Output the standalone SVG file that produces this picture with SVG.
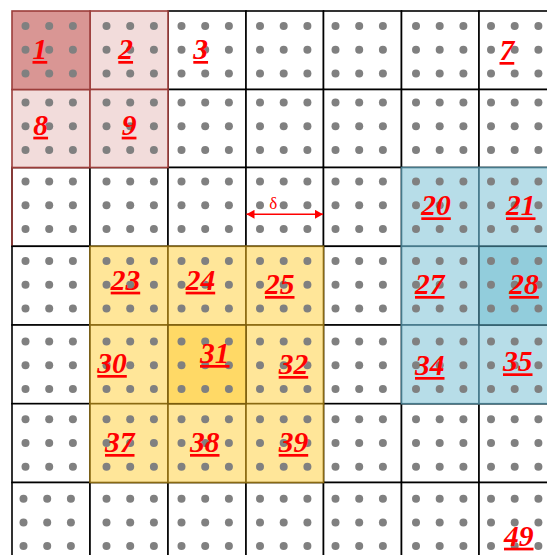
<svg xmlns="http://www.w3.org/2000/svg" xmlns:xlink="http://www.w3.org/1999/xlink" width="547" height="555" viewBox="0 0 547 555">
<style>
.c{fill:#ffffff;stroke:#000000;stroke-width:1.6}
.pk{fill:#f2dcdb;stroke:#9b3d3a;stroke-width:1.6}
.pk1{fill:#d99694;stroke:#9b3d3a;stroke-width:1.6}
.ye{fill:#ffe699;stroke:#8a6a12;stroke-width:1.6}
.ye1{fill:#ffd966;stroke:#7a5c0c;stroke-width:1.6}
.bl{fill:#b7dde8;stroke:#46798a;stroke-width:1.6}
.bl1{fill:#92cddc;stroke:#2f5a68;stroke-width:1.6}
.lb{font-family:"Liberation Serif","Times New Roman",serif;font-weight:bold;font-style:italic;font-size:29.5px;fill:#ff0000}
.ul{fill:#ff0000}
.dl{font-family:"Liberation Serif","Times New Roman",serif;font-size:17px;fill:#ff0000}
</style>
<defs>
<g id="dots" fill="#808080">
<circle cx="0" cy="0" r="4"/><circle cx="23.7" cy="0" r="4"/><circle cx="47.4" cy="0" r="4"/>
<circle cx="0" cy="23.7" r="4"/><circle cx="23.7" cy="23.7" r="4"/><circle cx="47.4" cy="23.7" r="4"/>
<circle cx="0" cy="47.4" r="4"/><circle cx="23.7" cy="47.4" r="4"/><circle cx="47.4" cy="47.4" r="4"/>
</g>
<marker id="ah" viewBox="0 0 10 10" refX="10" refY="5" markerUnits="userSpaceOnUse" markerWidth="8" markerHeight="9" orient="auto-start-reverse" preserveAspectRatio="none">
<path d="M0,0 L10,5 L0,10 z" fill="#ff0000"/>
</marker>
</defs>
<rect x="0" y="0" width="547" height="555" fill="#ffffff"/>

<!-- plain cells -->
<g id="cell-3"><rect class="c" x="168" y="11" width="78" height="78.5"/><use href="#dots" x="181.5" y="26"/><text class="lb" x="193.3" y="59">3</text><rect class="ul" x="193.3" y="61" width="14.75" height="2.7"/></g>
<g id="cell-4"><rect class="c" x="246" y="11" width="77.5" height="78.5"/><use href="#dots" x="260" y="26"/></g>
<g id="cell-5"><rect class="c" x="323.5" y="11" width="78" height="78.5"/><use href="#dots" x="335.5" y="26"/></g>
<g id="cell-6"><rect class="c" x="401.5" y="11" width="77.5" height="78.5"/><use href="#dots" x="416" y="26"/></g>
<g id="cell-7"><rect class="c" x="479" y="11" width="78" height="78.5"/><use href="#dots" x="491" y="26"/><text class="lb" x="499.5" y="60">7</text><rect class="ul" x="499.5" y="62" width="14.75" height="2.7"/></g>

<g id="cell-10"><rect class="c" x="168" y="89.5" width="78" height="78"/><use href="#dots" x="181.5" y="102.5"/></g>
<g id="cell-11"><rect class="c" x="246" y="89.5" width="77.5" height="78"/><use href="#dots" x="260" y="102.5"/></g>
<g id="cell-12"><rect class="c" x="323.5" y="89.5" width="78" height="78"/><use href="#dots" x="335.5" y="102.5"/></g>
<g id="cell-13"><rect class="c" x="401.5" y="89.5" width="77.5" height="78"/><use href="#dots" x="416" y="102.5"/></g>
<g id="cell-14"><rect class="c" x="479" y="89.5" width="78" height="78"/><use href="#dots" x="491" y="102.5"/></g>

<g id="cell-15"><rect class="c" x="12" y="167.5" width="78" height="78.8"/><path d="M12,246.3 V167.5 H90" fill="none" stroke="#9b3d3a" stroke-width="1.6"/><use href="#dots" x="25.5" y="181.5"/></g>
<g id="cell-16"><rect class="c" x="90" y="167.5" width="78" height="78.8"/><use href="#dots" x="106.5" y="181.5"/></g>
<g id="cell-17"><rect class="c" x="168" y="167.5" width="78" height="78.8"/><use href="#dots" x="181.5" y="181.5"/></g>
<g id="cell-18"><rect class="c" x="246" y="167.5" width="77.5" height="78.8"/><use href="#dots" x="260" y="181.5"/></g>
<g id="cell-19"><rect class="c" x="323.5" y="167.5" width="78" height="78.8"/><use href="#dots" x="335.5" y="181.5"/></g>

<g id="cell-22"><rect class="c" x="12" y="246.3" width="78" height="78.7"/><use href="#dots" x="25.5" y="261"/></g>
<g id="cell-26"><rect class="c" x="323.5" y="246.3" width="78" height="78.7"/><use href="#dots" x="335.5" y="261"/></g>

<g id="cell-29"><rect class="c" x="12" y="325" width="78" height="78.7"/><use href="#dots" x="25.5" y="341.5"/></g>
<g id="cell-33"><rect class="c" x="323.5" y="325" width="78" height="78.7"/><use href="#dots" x="335.5" y="341.5"/></g>

<g id="cell-36"><rect class="c" x="12" y="403.7" width="78" height="78.8"/><use href="#dots" x="25.5" y="419.3"/></g>
<g id="cell-40"><rect class="c" x="323.5" y="403.7" width="78" height="78.8"/><use href="#dots" x="335.5" y="419.3"/></g>
<g id="cell-41"><rect class="c" x="401.5" y="403.7" width="77.5" height="78.8"/><use href="#dots" x="416" y="419.3"/></g>
<g id="cell-42"><rect class="c" x="479" y="403.7" width="78" height="78.8"/><use href="#dots" x="491" y="419.3"/></g>

<g id="cell-43"><rect class="c" x="12" y="482.5" width="78" height="78.5"/><use href="#dots" x="23.5" y="498.7"/></g>
<g id="cell-44"><rect class="c" x="90" y="482.5" width="78" height="78.5"/><use href="#dots" x="106.5" y="498.7"/></g>
<g id="cell-45"><rect class="c" x="168" y="482.5" width="78" height="78.5"/><use href="#dots" x="181.5" y="498.7"/></g>
<g id="cell-46"><rect class="c" x="246" y="482.5" width="77.5" height="78.5"/><use href="#dots" x="260" y="498.7"/></g>
<g id="cell-47"><rect class="c" x="323.5" y="482.5" width="78" height="78.5"/><use href="#dots" x="335.5" y="498.7"/></g>
<g id="cell-48"><rect class="c" x="401.5" y="482.5" width="77.5" height="78.5"/><use href="#dots" x="416" y="498.7"/></g>
<g id="cell-49"><rect class="c" x="479" y="482.5" width="78" height="78.5"/><use href="#dots" x="491" y="498.7"/><text class="lb" x="504" y="545.7">49</text><rect class="ul" x="504" y="547.7" width="29.5" height="2.7"/></g>

<!-- pink cells -->
<g id="cell-2"><rect class="pk" x="90" y="11" width="78" height="78.5"/><use href="#dots" x="106.5" y="26"/><text class="lb" x="118.3" y="59">2</text><rect class="ul" x="118.3" y="61" width="14.75" height="2.7"/></g>
<g id="cell-8"><rect class="pk" x="12" y="89.5" width="78" height="78"/><use href="#dots" x="25.5" y="102.5"/><text class="lb" x="33.3" y="134.7">8</text><rect class="ul" x="33.3" y="136.7" width="14.75" height="2.7"/></g>
<g id="cell-9"><rect class="pk" x="90" y="89.5" width="78" height="78"/><use href="#dots" x="106.5" y="102.5"/><text class="lb" x="121.7" y="134.7">9</text><rect class="ul" x="121.7" y="136.7" width="14.75" height="2.7"/></g>
<g id="cell-1"><rect class="pk1" x="12" y="11" width="78" height="78.5"/><use href="#dots" x="25.5" y="26"/><text class="lb" x="32.5" y="59">1</text><rect class="ul" x="32.5" y="61" width="14.75" height="2.7"/></g>

<!-- yellow cells -->
<g id="cell-23"><rect class="ye" x="90" y="246.3" width="78" height="78.7"/><use href="#dots" x="106.5" y="261"/><text class="lb" x="110.7" y="289.7">23</text><rect class="ul" x="110.7" y="291.7" width="29.5" height="2.7"/></g>
<g id="cell-24"><rect class="ye" x="168" y="246.3" width="78" height="78.7"/><use href="#dots" x="181.5" y="261"/><text class="lb" x="185.7" y="289.7">24</text><rect class="ul" x="185.7" y="291.7" width="29.5" height="2.7"/></g>
<g id="cell-25"><rect class="ye" x="246" y="246.3" width="77.5" height="78.7"/><use href="#dots" x="260" y="261"/><text class="lb" x="265" y="294">25</text><rect class="ul" x="265" y="296" width="29.5" height="2.7"/></g>
<g id="cell-30"><rect class="ye" x="90" y="325" width="78" height="78.7"/><use href="#dots" x="106.5" y="341.5"/><text class="lb" x="97.3" y="373">30</text><rect class="ul" x="97.3" y="375" width="29.5" height="2.7"/></g>
<g id="cell-32"><rect class="ye" x="246" y="325" width="77.5" height="78.7"/><use href="#dots" x="260" y="341.5"/><text class="lb" x="278.7" y="374">32</text><rect class="ul" x="278.7" y="376" width="29.5" height="2.7"/></g>
<g id="cell-37"><rect class="ye" x="90" y="403.7" width="78" height="78.8"/><use href="#dots" x="106.5" y="419.3"/><text class="lb" x="105" y="452">37</text><rect class="ul" x="105" y="454" width="29.5" height="2.7"/></g>
<g id="cell-38"><rect class="ye" x="168" y="403.7" width="78" height="78.8"/><use href="#dots" x="181.5" y="419.3"/><text class="lb" x="190" y="452">38</text><rect class="ul" x="190" y="454" width="29.5" height="2.7"/></g>
<g id="cell-39"><rect class="ye" x="246" y="403.7" width="77.5" height="78.8"/><use href="#dots" x="260" y="419.3"/><text class="lb" x="278.7" y="452">39</text><rect class="ul" x="278.7" y="454" width="29.5" height="2.7"/></g>
<g id="cell-31"><rect class="ye1" x="168" y="325" width="78" height="78.7"/><use href="#dots" x="181.5" y="341.5"/><text class="lb" x="200" y="363">31</text><rect class="ul" x="200" y="365" width="29.5" height="2.7"/></g>

<!-- blue cells -->
<g id="cell-20"><rect class="bl" x="401.5" y="167.5" width="77.5" height="78.8"/><use href="#dots" x="416" y="181.5"/><text class="lb" x="421.3" y="215.3">20</text><rect class="ul" x="421.3" y="217.3" width="29.5" height="2.7"/></g>
<g id="cell-21"><rect class="bl" x="479" y="167.5" width="78" height="78.8"/><use href="#dots" x="491" y="181.5"/><text class="lb" x="506" y="215.3">21</text><rect class="ul" x="506" y="217.3" width="29.5" height="2.7"/></g>
<g id="cell-27"><rect class="bl" x="401.5" y="246.3" width="77.5" height="78.7"/><use href="#dots" x="416" y="261"/><text class="lb" x="415" y="294">27</text><rect class="ul" x="415" y="296" width="29.5" height="2.7"/></g>
<g id="cell-34"><rect class="bl" x="401.5" y="325" width="77.5" height="78.7"/><use href="#dots" x="416" y="341.5"/><text class="lb" x="415" y="375">34</text><rect class="ul" x="415" y="377" width="29.5" height="2.7"/></g>
<g id="cell-35"><rect class="bl" x="479" y="325" width="78" height="78.7"/><use href="#dots" x="491" y="341.5"/><text class="lb" x="503" y="371.3">35</text><rect class="ul" x="503" y="373.3" width="29.5" height="2.7"/></g>
<g id="cell-28"><rect class="bl1" x="479" y="246.3" width="78" height="78.7"/><use href="#dots" x="491" y="261"/><text class="lb" x="509.3" y="294">28</text><rect class="ul" x="509.3" y="296" width="29.5" height="2.7"/></g>

<!-- connectors / dimension -->
<g id="connectors">
<line x1="246.5" y1="214.3" x2="323" y2="214.3" stroke="#ff0000" stroke-width="1.4" marker-start="url(#ah)" marker-end="url(#ah)"/>
<text class="dl" x="273.3" y="209" text-anchor="middle">δ</text>
</g>
</svg>
